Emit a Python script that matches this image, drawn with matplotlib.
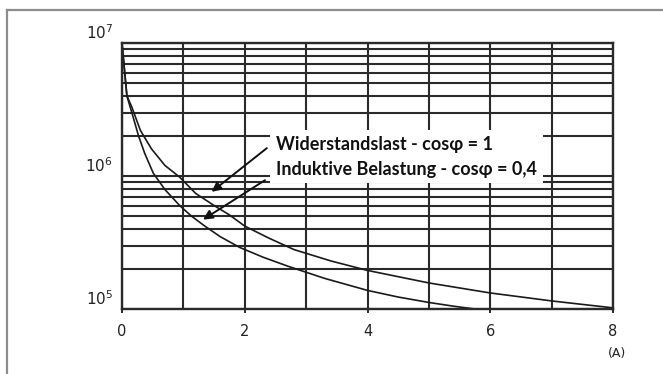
import numpy as np
import matplotlib
matplotlib.use("Agg")
import matplotlib.pyplot as plt
from matplotlib.lines import Line2D
from matplotlib.ticker import FixedLocator, LogLocator, NullFormatter

# Schaltstrom in A und Schaltspiele (elektrische Lebensdauer)
strom_ohm = [0.0, 0.04, 0.08, 0.16, 0.3, 0.48, 0.7, 0.94, 1.2, 1.5, 1.75,
             2.0, 2.4, 2.8, 3.4, 4.0, 5.0, 6.0, 7.0, 8.0]
zyklen_ohm = [1.0e7, 6.3e6, 4.0e6, 3.3e6, 2.2e6, 1.6e6, 1.2e6, 9.8e5, 7.4e5,
              6.0e5, 5.1e5, 4.2e5, 3.4e5, 2.8e5, 2.3e5, 1.95e5, 1.57e5,
              1.32e5, 1.15e5, 1.02e5]

strom_ind = [0.0, 0.04, 0.08, 0.16, 0.27, 0.37, 0.51, 0.7, 0.94, 1.13, 1.35,
             1.6, 1.92, 2.3, 2.7, 3.3, 4.0, 4.5, 5.0, 5.4, 5.75]
zyklen_ind = [1.0e7, 6.3e6, 4.0e6, 3.0e6, 2.0e6, 1.48e6, 1.05e6, 7.9e5,
              6.0e5, 5.0e5, 4.2e5, 3.5e5, 2.9e5, 2.45e5, 2.1e5, 1.7e5,
              1.38e5, 1.23e5, 1.12e5, 1.05e5, 1.0e5]

x_ticks = [0, 2, 4, 6, 8]
y_labels = {1e7: r"10$^7$", 1e6: r"10$^6$", 1e5: r"10$^5$"}
legende = "Widerstandslast - cos\u03c6 = 1\nInduktive Belastung - cos\u03c6 = 0,4"

fig = plt.figure(figsize=(6.63, 3.74), dpi=100)
fig.patch.set_facecolor("white")

# grauer Rahmen oben/links
rx, ry = 7 / 663, 1 - 10 / 374
fig.add_artist(Line2D([rx, 1.0], [ry, ry], color="#8c8c8c", lw=1.6))
fig.add_artist(Line2D([rx, rx], [0.0, ry], color="#8c8c8c", lw=1.6))

ax = fig.add_axes([122 / 663, 65 / 374, 491 / 663, 266 / 374])
ax.set_yscale("log")
ax.set_xlim(0, 8)
ax.set_ylim(1e5, 1e7)

gitter = "#2a2a2a"
ax.xaxis.set_major_locator(FixedLocator(x_ticks))
ax.xaxis.set_minor_locator(FixedLocator([1, 3, 5, 7]))
ax.yaxis.set_major_locator(LogLocator(base=10))
ax.yaxis.set_minor_locator(LogLocator(base=10, subs=np.arange(2, 10)))
ax.yaxis.set_major_formatter(NullFormatter())
ax.yaxis.set_minor_formatter(NullFormatter())
ax.grid(True, which="both", axis="both", color=gitter, lw=1.5)
ax.set_axisbelow(True)
for s in ax.spines.values():
    s.set_color(gitter)
    s.set_linewidth(1.7)
ax.tick_params(axis="x", which="major", length=3, width=1.4, color=gitter,
               labelsize=10.5, pad=8, labelcolor="#222222")
ax.tick_params(axis="x", which="minor", length=0)
ax.tick_params(axis="y", which="both", length=0)

# Kennlinien
ax.plot(strom_ohm, zyklen_ohm, color="#1a1a1a", lw=1.2)
ax.plot(strom_ind, zyklen_ind, color="#1a1a1a", lw=1.2)

# y-Beschriftung knapp über den Dekadenlinien
for wert, txt in y_labels.items():
    ax.annotate(txt, xy=(0, wert), xycoords=("axes fraction", "data"),
                xytext=(-9, 1), textcoords="offset pixels",
                ha="right", va="bottom", fontsize=11, color="#222222")

ax.annotate("(A)", xy=(1, 0), xycoords="axes fraction",
            xytext=(4, -44), textcoords="offset pixels",
            ha="center", va="center", fontsize=9, color="#222222")

# Legende mit Pfeilen
ax.text(2.51, 2.0e6, legende, fontsize=13, fontweight="bold",
        family=["Lato", "DejaVu Sans"], linespacing=1.55,
        ha="left", va="top", color="#111111", zorder=5,
        bbox=dict(facecolor="white", edgecolor="none", pad=4))
pfeil = dict(arrowstyle="-|>", color="#111111", lw=1.4, mutation_scale=14,
             shrinkA=0, shrinkB=0)
ax.annotate("", xy=(1.46, 7.6e5), xytext=(2.36, 1.62e6), arrowprops=pfeil,
            zorder=6)
ax.annotate("", xy=(1.32, 4.7e5), xytext=(2.33, 9.3e5), arrowprops=pfeil,
            zorder=6)

fig.savefig("out.png", dpi=100)
